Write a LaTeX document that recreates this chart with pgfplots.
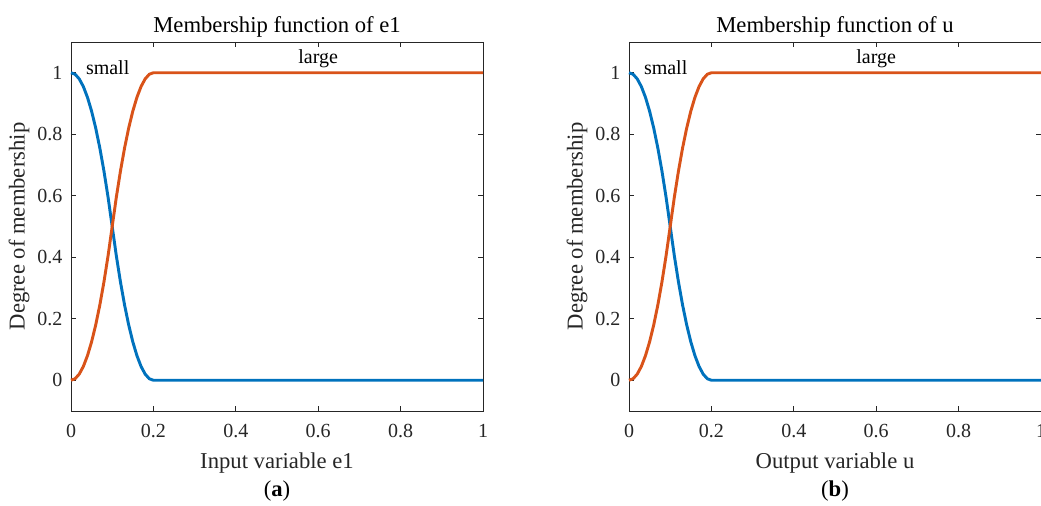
\documentclass[border=0pt]{standalone}
\usepackage{pgfplots}
\pgfplotsset{compat=1.18}
\usepackage{fontspec}
\setmainfont{Liberation Serif}
\definecolor{mblue}{rgb}{0,0.447,0.741}
\definecolor{morange}{rgb}{0.85,0.325,0.098}
\definecolor{axgray}{rgb}{0.15,0.15,0.15}
\begin{document}
\begin{tikzpicture}
\pgfplotsset{
  mfstyle/.style={
    scale only axis,
    width=309pt, height=276.75pt,
    xmin=0, xmax=1, ymin=-0.1, ymax=1.1,
    xtick={0,0.2,...,1}, ytick={0,0.2,...,1},
    tick align=inside,
    major tick length=3.5pt,
    axis line style={axgray, line width=0.6pt},
    every tick/.style={axgray, line width=0.6pt},
    tick label style={font=\fontsize{15}{18}\selectfont, text=axgray},
    /pgf/number format/assume math mode=true,
    label style={font=\fontsize{17}{20}\selectfont, text=axgray},
    title style={font=\fontsize{17}{20}\selectfont, text=black, at={(0.5,1)}, anchor=base, yshift=1pt},
    xticklabel style={yshift=-6.5pt},
    yticklabel style={xshift=-3pt},
    xlabel style={yshift=-4.5pt},
    ylabel style={yshift=-1pt},
    ylabel={Degree of membership},
    clip=false,
  },
  small/.style={mblue, line width=2.2pt},
  large/.style={morange, line width=2.2pt},
}
\pgfplotstableread{
x s
0 1
0.01 0.995
0.02 0.98
0.03 0.955
0.04 0.92
0.05 0.875
0.06 0.82
0.07 0.755
0.08 0.68
0.09 0.595
0.10 0.5
0.11 0.405
0.12 0.32
0.13 0.245
0.14 0.18
0.15 0.125
0.16 0.08
0.17 0.045
0.18 0.02
0.19 0.005
0.20 0
1.00 0
}\smalltab
\pgfplotstableread{
x l
0 0
0.01 0.005
0.02 0.02
0.03 0.045
0.04 0.08
0.05 0.125
0.06 0.18
0.07 0.245
0.08 0.32
0.09 0.405
0.10 0.5
0.11 0.595
0.12 0.68
0.13 0.755
0.14 0.82
0.15 0.875
0.16 0.92
0.17 0.955
0.18 0.98
0.19 0.995
0.20 1
1.00 1
}\largetab
\begin{axis}[mfstyle, at={(53.25pt,71.25pt)}, anchor=south west,
  title={Membership function of e1}, xlabel={Input variable e1}]
\addplot[small] table[x=x,y=s] {\smalltab};
\addplot[large] table[x=x,y=l] {\largetab};
\node[anchor=west, font=\fontsize{15}{18}\selectfont] at (axis cs:0.025,1.015) {small};
\node[anchor=center, font=\fontsize{15}{18}\selectfont] at (axis cs:0.6,1.045) {large};
\node[font=\fontsize{17}{20}\selectfont] at (axis cs:0.5,-0.36) {(\textbf{a})};
\end{axis}
\begin{axis}[mfstyle, at={(471.75pt,71.25pt)}, anchor=south west,
  title={Membership function of u}, xlabel={Output variable u}]
\addplot[small] table[x=x,y=s] {\smalltab};
\addplot[large] table[x=x,y=l] {\largetab};
\node[anchor=west, font=\fontsize{15}{18}\selectfont] at (axis cs:0.025,1.015) {small};
\node[anchor=center, font=\fontsize{15}{18}\selectfont] at (axis cs:0.6,1.045) {large};
\node[font=\fontsize{17}{20}\selectfont] at (axis cs:0.5,-0.36) {(\textbf{b})};
\end{axis}
\pgfresetboundingbox
\useasboundingbox (0,0) rectangle (780.75pt,379.5pt);
\end{tikzpicture}
\end{document}
